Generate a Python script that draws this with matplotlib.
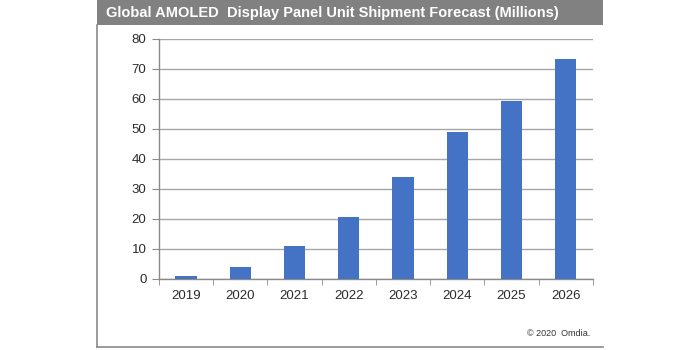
"""Global AMOLED display panel unit shipment forecast, bar chart."""

import matplotlib.pyplot as plt
import numpy as np
from matplotlib.patches import Rectangle
from matplotlib.lines import Line2D

years = ['2019', '2020', '2021', '2022', '2023', '2024', '2025', '2026']
shipments = [1.0, 3.9, 11.0, 20.8, 33.9, 49.1, 59.2, 73.3]
y_ticks = [0, 10, 20, 30, 40, 50, 60, 70, 80]

plt.rcParams['font.family'] = ['Liberation Sans', 'DejaVu Sans']

fig = plt.figure(figsize=(7, 3.5), dpi=100)
fig.patch.set_facecolor('white')

# gray title bar and frame lines
fig.patches.append(Rectangle((0.1386, 0.9286), 0.7228, 0.0714, transform=fig.transFigure,
                             facecolor='#818181', edgecolor='none'))
fig.lines.append(Line2D([0.1386, 0.1386], [0.9286, 0.0086], transform=fig.transFigure,
                        color='#8a8a8a', linewidth=1.2))
fig.lines.append(Line2D([0.1386, 0.8614], [0.0086, 0.0086], transform=fig.transFigure,
                        color='#8a8a8a', linewidth=1.2))
fig.text(0.152, 0.962, 'Global AMOLED  Display Panel Unit Shipment Forecast (Millions)',
         color='white', fontsize=10.5, fontweight='bold', ha='left', va='center')

ax = fig.add_axes([0.227, 0.203, 0.62, 0.686])
x = np.arange(len(years))
ax.bar(x, shipments, width=0.39, color='#4472c4', zorder=3)

ax.set_xlim(-0.5, len(years) - 0.5)
ax.set_ylim(0, 80)
ax.set_yticks(y_ticks)
ax.set_xticks(x)
ax.set_xticklabels(years)
ax.set_xticks(np.arange(len(years) + 1) - 0.5, minor=True)

ax.yaxis.grid(True, color='#a6a6a6', linewidth=1.0, zorder=0)
ax.tick_params(axis='y', which='major', length=5, color='#8a8a8a',
               labelsize=9.5, pad=4, labelcolor='#2b2b2b')
ax.tick_params(axis='x', which='major', length=0, labelsize=9.5, pad=8, labelcolor='#2b2b2b')
ax.tick_params(axis='x', which='minor', length=4, color='#8a8a8a')

for side in ['top', 'right']:
    ax.spines[side].set_visible(False)
for side in ['left', 'bottom']:
    ax.spines[side].set_color('#8a8a8a')
    ax.spines[side].set_linewidth(1.0)

fig.text(0.843, 0.048, '\u00a9 2020  Omdia.', fontsize=6.5, color='#333333',
         ha='right', va='center')

plt.savefig('out.png', dpi=100, facecolor='white')
